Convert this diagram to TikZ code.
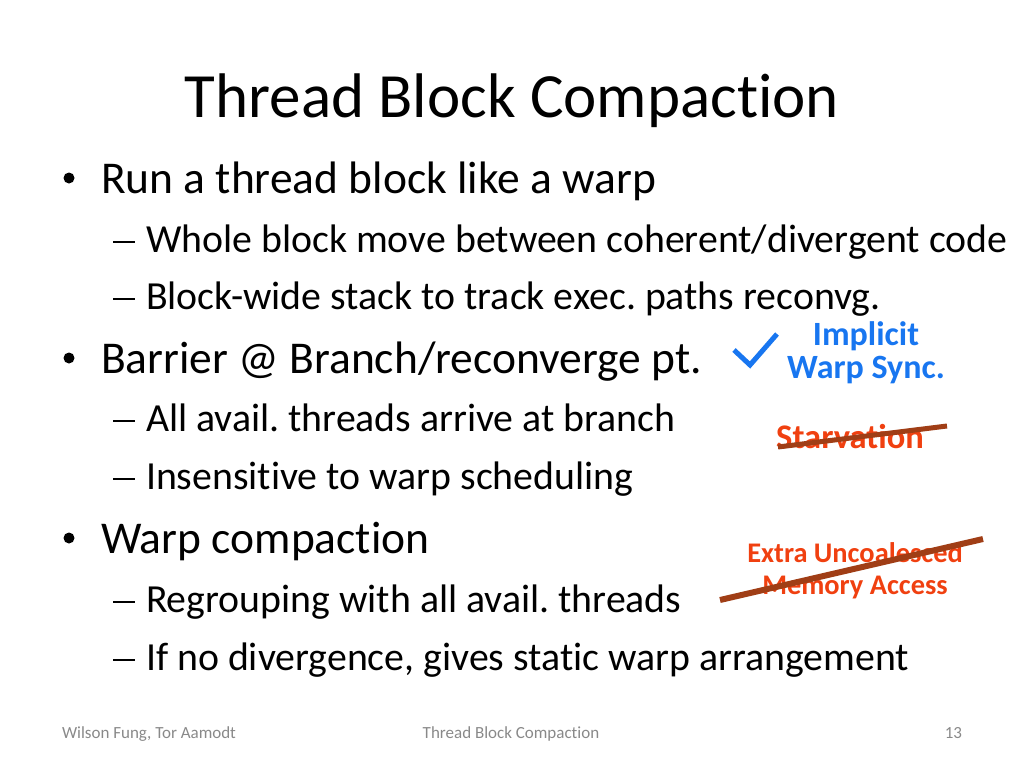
\documentclass[tikz,border=0pt]{standalone}
\usepackage{fontspec}
\setmainfont[Ligatures=NoCommon]{Carlito}
\usepackage{tikz}
\usetikzlibrary{positioning}
\definecolor{syncblue}{RGB}{24,118,240}
\definecolor{conred}{RGB}{240,64,16}
\definecolor{strikebrown}{RGB}{160,62,22}
\definecolor{footgray}{RGB}{137,137,137}
\newcommand{\lone}{\fontsize{45.5}{50}\selectfont}
\newcommand{\ltwo}{\fontsize{39.8}{44}\selectfont}
\newcommand{\subdash}{\rule[9pt]{22pt}{2.2pt}}
\frenchspacing

\begin{document}
\begin{tikzpicture}[x=1pt,y=-1pt,
    every node/.style={inner sep=0pt,outer sep=0pt},
    itemone/.style={anchor=base west,font=\lone},
    itemtwo/.style={anchor=base west,font=\ltwo},
    dotmark/.style={circle,fill=black,minimum size=11pt},
    dashmark/.style={anchor=base},
    pro/.style={font=\fontsize{34}{33}\selectfont\bfseries,text=syncblue,align=center},
    con/.style={font=\fontsize{28.4}{32}\selectfont\bfseries,text=conred,align=center},
    foot/.style={anchor=base,font=\fontsize{17}{20}\selectfont,text=footgray},
    strike/.style={draw=strikebrown,line width=5pt}]
        \useasboundingbox (0,0) rectangle (1024,768);

        \node(title) at (512,117) [anchor=base,font=\fontsize{63}{70}\selectfont] {Thread Block Compaction};

        \node(b1) at (69,178) [dotmark] {};
        \node(run) at (101,193) [itemone] {Run a thread block like a warp};
        \node(d1) at (124,252) [dashmark] {\subdash};
        \node(whole) at (146,252) [itemtwo] {Whole block move between coherent/divergent code};
        \node(d2) at (124,309) [dashmark] {\subdash};
        \node(stack) at (146,309) [itemtwo] {Block-wide stack to track exec. paths reconvg.};

        \node(b2) at (69,358) [dotmark] {};
        \node(barrier) at (101,373) [itemone] {Barrier @ Branch/reconverge pt.};
        \node(d3) at (124,431) [dashmark] {\subdash};
        \node(avail) at (146,431) [itemtwo] {All avail. threads arrive at branch};
        \node(d4) at (124,489) [dashmark] {\subdash};
        \node(insens) at (146,489) [itemtwo] {Insensitive to warp scheduling};

        \node(b3) at (69,538) [dotmark] {};
        \node(compact) at (101,553) [itemone] {Warp compaction};
        \node(d5) at (124,612) [dashmark] {\subdash};
        \node(regroup) at (146,612) [itemtwo] {Regrouping with all avail. threads};
        \node(d6) at (124,670) [dashmark] {\subdash};
        \node(static) at (146,670) [itemtwo] {If no divergence, gives static warp arrangement};

        \node(implicit) at (866,353) [pro] {Implicit\\Warp Sync.};
        \node(starv) at (850,437) [con,font=\fontsize{34.5}{36}\selectfont\bfseries] {Starvation};
        \node(uncoal) at (855,571) [con] {Extra Uncoalesced\\Memory Access};

        \coordinate(ck1) at (734,350);
        \coordinate(ck2) at (750,365);
        \coordinate(ck3) at (777,334);
        \coordinate(s1a) at (778,447);
        \coordinate(s1b) at (947,426);
        \coordinate(s2a) at (720,600);
        \coordinate(s2b) at (983,539);

        \begin{scope}
          \draw[syncblue,line width=5pt] (ck1) -- (ck2) -- (ck3);
          \draw[strike] (s1a) -- (s1b);
          \draw[strike,line width=6pt] (s2a) -- (s2b);
        \end{scope}

        \node(author) at (149,738) [foot] {Wilson Fung, Tor Aamodt};
        \node(ftitle) at (511,738) [foot] {Thread Block Compaction};
        \node(page) at (962,738) [foot,anchor=base east] {13};
      \end{tikzpicture}
\end{document}
